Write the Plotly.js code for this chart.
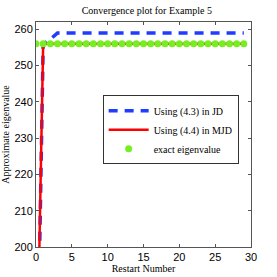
<!DOCTYPE html>
<html><head><meta charset="utf-8">
<script src="https://cdn.plot.ly/plotly-3.0.1.min.js"></script>
<style>html,body{margin:0;padding:0;background:#fff;}#chart{width:277px;height:277px;}</style>
</head><body><div id="chart"></div>
<script>
const restarts = [0,1,2,3,4,5,6,7,8,9,10,11,12,13,14,15,16,17,18,19,20,21,22,23,24,25,26,27,28,29];
const jdValues = [140,255.9,257.2,259,259,259,259,259,259,259,259,259,259,259,259,259,259,259,259,259,259,259,259,259,259,259,259,259,259,259];
const mjdValues = [150,256,256,256,256,256,256,256,256,256,256,256,256,256,256,256,256,256,256,256,256,256,256,256,256,256,256,256,256,256];
const exactValues = [256,256,256,256,256,256,256,256,256,256,256,256,256,256,256,256,256,256,256,256,256,256,256,256,256,256,256,256,256,256];
const xTicks = [0,5,10,15,20,25,30];
const yTicks = [200,210,220,230,240,250,260];

const serif = 'Liberation Serif, Times New Roman, serif';
const sans = 'Liberation Sans, Arial, sans-serif';

const traces = [
  {x: restarts, y: jdValues, mode: 'lines', name: 'Using (4.3) in JD',
   line: {color: '#1f3cff', width: 3.5, dash: '9px,7px'}},
  {x: restarts, y: mjdValues, mode: 'lines', name: 'Using (4.4) in MJD',
   line: {color: '#ff0000', width: 2.5}},
  {x: restarts, y: exactValues, mode: 'markers', name: 'exact eigenvalue',
   marker: {color: '#77ee22', size: 7}}
];

const axisCommon = {
  showgrid: false, zeroline: false, showline: true, mirror: 'ticks',
  linecolor: '#555', linewidth: 1, ticks: 'inside', ticklen: 3, tickcolor: '#555',
  tickfont: {family: sans, size: 11, color: '#000'}
};

const layout = {
  width: 277, height: 277,
  margin: {l: 36, r: 26, t: 22, b: 30},
  paper_bgcolor: '#fff', plot_bgcolor: '#fff',
  title: {text: 'Convergence plot for Example 5', font: {family: serif, size: 10, color: '#000'},
          x: 0.53, xanchor: 'center', y: 0.975, yanchor: 'top'},
  xaxis: Object.assign({}, axisCommon, {range: [0, 30], tickvals: xTicks,
    title: {text: 'Restart Number', font: {family: serif, size: 10, color: '#000'}, standoff: 2}}),
  yaxis: Object.assign({}, axisCommon, {range: [200, 262], tickvals: yTicks,
    title: {text: 'Approximate eigenvalue', font: {family: serif, size: 10, color: '#000'}, standoff: 2}}),
  showlegend: true,
  legend: {x: 0.31, y: 0.675, xanchor: 'left', yanchor: 'top',
    bgcolor: '#fff', bordercolor: '#333', borderwidth: 1,
    font: {family: serif, size: 10, color: '#000'}, tracegroupgap: 0, itemwidth: 40}
};

Plotly.newPlot('chart', traces, layout, {displayModeBar: false, staticPlot: true});
</script></body></html>
